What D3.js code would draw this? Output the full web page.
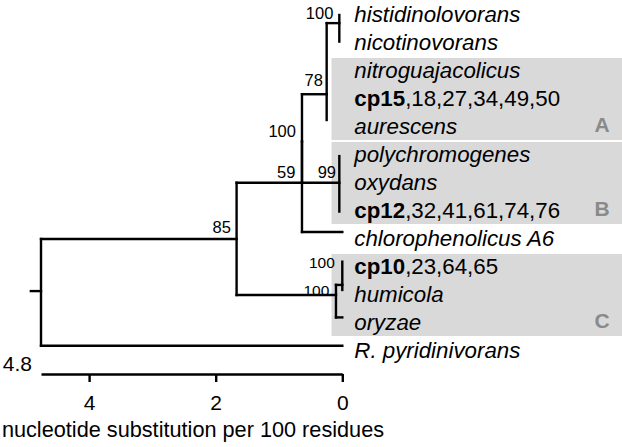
<!DOCTYPE html>
<html>
<head>
<meta charset="utf-8">
<script src="https://cdn.jsdelivr.net/npm/d3@7"></script>
<style>
  html, body { margin: 0; padding: 0; background: #fff; }
  svg { display: block; font-family: "Liberation Sans", Arial, sans-serif; }
</style>
</head>
<body>
<svg id="chart" width="622" height="447"></svg>
<script>
// ---------------- DATA ----------------
// leaf labels, top to bottom (row index = position in this list)
const taxa = [
  "histidinolovorans", "nicotinovorans", "nitroguajacolicus",
  "cp15,18,27,34,49,50", "aurescens", "polychromogenes", "oxydans",
  "cp12,32,41,61,74,76", "chlorophenolicus A6", "cp10,23,64,65",
  "humicola", "oryzae", "R. pyridinivorans"
];
// internal nodes (height = nucleotide substitutions per 100 residues from tips)
const nodeIds        = ["nHN", "n78", "n99", "n100", "n59", "nC1", "nC2", "n85", "root"];
const nodeHeights    = [0.047, 0.247, 0.047, 0.637, 0.637, 0.0, 0.10, 1.67, 4.76];
const nodeParents    = ["n78", "n100", "n100", "n59", "n85", "nC2", "n85", "root", null];
const nodeRowTop     = [0.0, 0.29, 5.04, 2.83, 4.52, 8.81, 9.64, 5.99, 8.0];
const nodeRowBottom  = [0.95, 3.75, 7.02, 5.99, 7.75, 9.82, 10.8, 10.0, 11.81];
const nodeRowJoin    = [0.29, 2.83, 5.99, 4.52, 5.99, 9.64, 10.0, 8.0, 9.86];
const bootstrap      = [100, 78, 99, 100, 59, 100, 100, 85, null];
// leaves drawn with their own terminal branch
const branchLeafRows   = [7.75, 10.8, 11.81];
const branchLeafParent = ["n59", "nC2", "root"];
const rootEdge = 0.16;
// shaded groups
const groupNames = ["A", "B", "C"];
const groupFirst = [2, 5, 9];
const groupLast  = [4, 7, 11];
// scale
const axisTicks = [4, 2, 0];
const axisMaxLabel = "4.8";
const axisTitle = "nucleotide substitution per 100 residues";

// ---------------- LAYOUT ----------------
const svg = d3.select("#chart");
const x = d3.scaleLinear().domain([4.76, 0]).range([41, 342.3]);
const y = d3.scaleLinear().domain([0, 12]).range([15, 351]);

const nodes = nodeIds.map((id, i) => ({
  id, h: nodeHeights[i], parent: nodeParents[i],
  top: nodeRowTop[i], bottom: nodeRowBottom[i], join: nodeRowJoin[i], bs: bootstrap[i]
}));
const byId = Object.fromEntries(nodes.map(n => [n.id, n]));

// shaded boxes
const gBox = svg.append("g");
groupNames.forEach((g, i) => {
  const top = y(groupFirst[i] - 0.5) + 1;
  const bot = y(groupLast[i] + 0.5) - 1;
  gBox.append("rect")
    .attr("x", x(0) - 10.8).attr("y", top)
    .attr("width", 622 - (x(0) - 10.8)).attr("height", bot - top)
    .attr("fill", "#d9d9d9");
  gBox.append("text")
    .attr("x", 602).attr("y", y(groupLast[i]) + 4.5)
    .attr("text-anchor", "middle")
    .attr("font-size", 21).attr("font-weight", "bold")
    .attr("fill", "#8a8a8a")
    .text(g);
});

// tree lines
const gTree = svg.append("g")
  .attr("stroke", "#000").attr("stroke-width", 2.4)
  .attr("fill", "none").attr("stroke-linecap", "square");

nodes.forEach(n => {
  gTree.append("line")
    .attr("x1", x(n.h)).attr("x2", x(n.h))
    .attr("y1", y(n.top)).attr("y2", y(n.bottom));
  const px = n.parent ? x(byId[n.parent].h) : x(n.h + rootEdge);
  gTree.append("line")
    .attr("x1", px).attr("x2", x(n.h))
    .attr("y1", y(n.join)).attr("y2", y(n.join));
});
branchLeafRows.forEach((r, i) => {
  gTree.append("line")
    .attr("x1", x(byId[branchLeafParent[i]].h)).attr("x2", x(0))
    .attr("y1", y(r)).attr("y2", y(r));
});

// bootstrap labels
const nudge = {
  nHN: [-6, -4.3, 16.5], n78: [-3.7, -8.3, 16.5], n100: [-6, -5, 16.5],
  n59: [-6.5, -5, 16.5], n99: [-3.3, -5, 16.5], n85: [-5.7, -6.5, 16.5],
  nC1: [-7.5, -16.5, 15.5], nC2: [-6.7, 1, 15.5]
};
nodes.filter(n => n.bs != null).forEach(n => {
  const [dx, dy, fs] = nudge[n.id];
  svg.append("text")
    .attr("x", x(n.h) + dx).attr("y", y(n.join) + dy)
    .attr("text-anchor", "end").attr("font-size", fs)
    .attr("fill", "#000")
    .text(n.bs);
});

// leaf labels
taxa.forEach((t, i) => {
  const txt = svg.append("text")
    .attr("x", x(0) + 12).attr("y", y(i) + 7)
    .attr("font-size", 22.3).attr("fill", "#000");
  if (t.startsWith("cp")) {
    const k = t.indexOf(",");
    txt.append("tspan").attr("font-weight", "bold").text(t.slice(0, k));
    txt.append("tspan").text(t.slice(k));
  } else {
    txt.attr("font-style", "italic").text(t);
  }
});

// scale axis
const axisY = 374;
const axis = d3.axisBottom(x).tickValues(axisTicks).tickSize(8).tickSizeOuter(0)
  .tickPadding(13).tickFormat(d3.format("d"));
const gAxis = svg.append("g").attr("transform", `translate(0,${axisY})`).call(axis);
gAxis.select(".domain").attr("stroke", "#000").attr("stroke-width", 2.4);
gAxis.selectAll(".tick line").attr("stroke", "#000").attr("stroke-width", 2.4);
gAxis.selectAll(".tick text")
  .attr("font-family", "Liberation Sans, Arial, sans-serif")
  .attr("font-size", 21).attr("fill", "#000");

svg.append("text")
  .attr("x", x(4.76) - 9).attr("y", axisY - 3.5)
  .attr("text-anchor", "end").attr("font-size", 21).attr("fill", "#000")
  .text(axisMaxLabel);

svg.append("text")
  .attr("x", 193).attr("y", 436.5)
  .attr("text-anchor", "middle").attr("font-size", 21.7).attr("fill", "#000")
  .text(axisTitle);
</script>
</body>
</html>
